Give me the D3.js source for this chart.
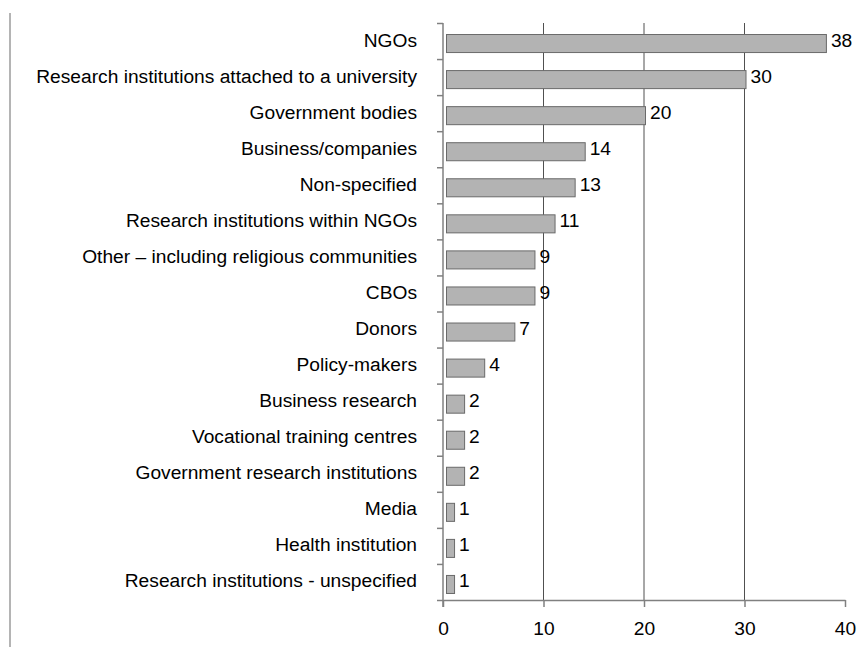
<!DOCTYPE html>
<html>
<head>
<meta charset="utf-8">
<script src="https://cdn.jsdelivr.net/npm/d3@7"></script>
<style>
  html, body { margin: 0; padding: 0; background: #fff; }
  svg { display: block; font-family: "Liberation Sans", Arial, sans-serif; }
</style>
</head>
<body>
<svg id="chart" width="860" height="647"></svg>
<script>
// Organisation types and their counts
const categories = [
  "NGOs",
  "Research institutions attached to a university",
  "Government bodies",
  "Business/companies",
  "Non-specified",
  "Research institutions within NGOs",
  "Other – including religious communities",
  "CBOs",
  "Donors",
  "Policy-makers",
  "Business research",
  "Vocational training centres",
  "Government research institutions",
  "Media",
  "Health institution",
  "Research institutions - unspecified"
];
const values = [38, 30, 20, 14, 13, 11, 9, 9, 7, 4, 2, 2, 2, 1, 1, 1];
const xTicks = [0, 10, 20, 30, 40];
const gridTicks = [10, 20, 30];

const svg = d3.select("#chart");
const plotLeft = 443, plotRight = 845, plotTop = 23, plotBottom = 600;
const fontSize = 19.2;

const x = d3.scaleLinear().domain([0, 40]).range([plotLeft, plotRight]);
const y = d3.scaleBand().domain(categories).range([plotTop, plotBottom]).paddingInner(0.5).paddingOuter(0.25);
const slot = d3.scaleLinear().domain([0, categories.length]).range([plotTop, plotBottom]);

// frame line on the far left
svg.append("line")
  .attr("x1", 10).attr("x2", 10).attr("y1", 13).attr("y2", 647)
  .attr("stroke", "#b4b4b4").attr("stroke-width", 2);

// vertical gridlines
svg.append("g").selectAll("line").data(gridTicks).join("line")
  .attr("x1", d => x(d)).attr("x2", d => x(d))
  .attr("y1", plotTop).attr("y2", plotBottom)
  .attr("stroke", "#505050").attr("stroke-width", 1);

// bars
svg.append("g").selectAll("rect").data(values).join("rect")
  .attr("x", x(0) + 3.5)
  .attr("y", (d, i) => y(categories[i]) + 2.5)
  .attr("width", d => x(d) - x(0) - 2)
  .attr("height", y.bandwidth())
  .attr("fill", "#b3b3b3")
  .attr("stroke", "#6a6a6a")
  .attr("stroke-width", 1);

// bottom axis
const xAxis = svg.append("g")
  .attr("transform", `translate(0,${plotBottom})`)
  .call(d3.axisBottom(x).tickValues(xTicks).tickSize(7).tickSizeOuter(0).tickPadding(14));
xAxis.select(".domain").attr("stroke", "#808080").attr("stroke-width", 1.5);
xAxis.selectAll(".tick line").attr("stroke", "#808080").attr("stroke-width", 1.5);
xAxis.selectAll("text")
  .attr("font-size", fontSize).attr("fill", "#000")
  .attr("font-family", "Liberation Sans, Arial, sans-serif");

// left axis with ticks between categories
const yAxis = svg.append("g")
  .attr("transform", `translate(${plotLeft},0)`)
  .call(d3.axisLeft(slot).tickValues(d3.range(0, categories.length + 1)).tickFormat("").tickSize(6).tickSizeOuter(0));
yAxis.select(".domain").attr("stroke", "#808080").attr("stroke-width", 1.5)
  .attr("d", `M0,${plotTop}V${plotBottom + 7}`);
yAxis.selectAll(".tick line").attr("stroke", "#808080").attr("stroke-width", 1.5);

// category labels
svg.append("g").selectAll("text").data(categories).join("text")
  .attr("x", 417)
  .attr("y", d => y(d) + y.bandwidth() / 2 + 5.5)
  .attr("text-anchor", "end")
  .attr("font-size", fontSize)
  .attr("fill", "#000")
  .text(d => d);

// value labels
svg.append("g").selectAll("text").data(values).join("text")
  .attr("x", d => x(d) + 6)
  .attr("y", (d, i) => y(categories[i]) + y.bandwidth() / 2 + 5.5)
  .attr("font-size", fontSize)
  .attr("fill", "#000")
  .text(d => d);
</script>
</body>
</html>
